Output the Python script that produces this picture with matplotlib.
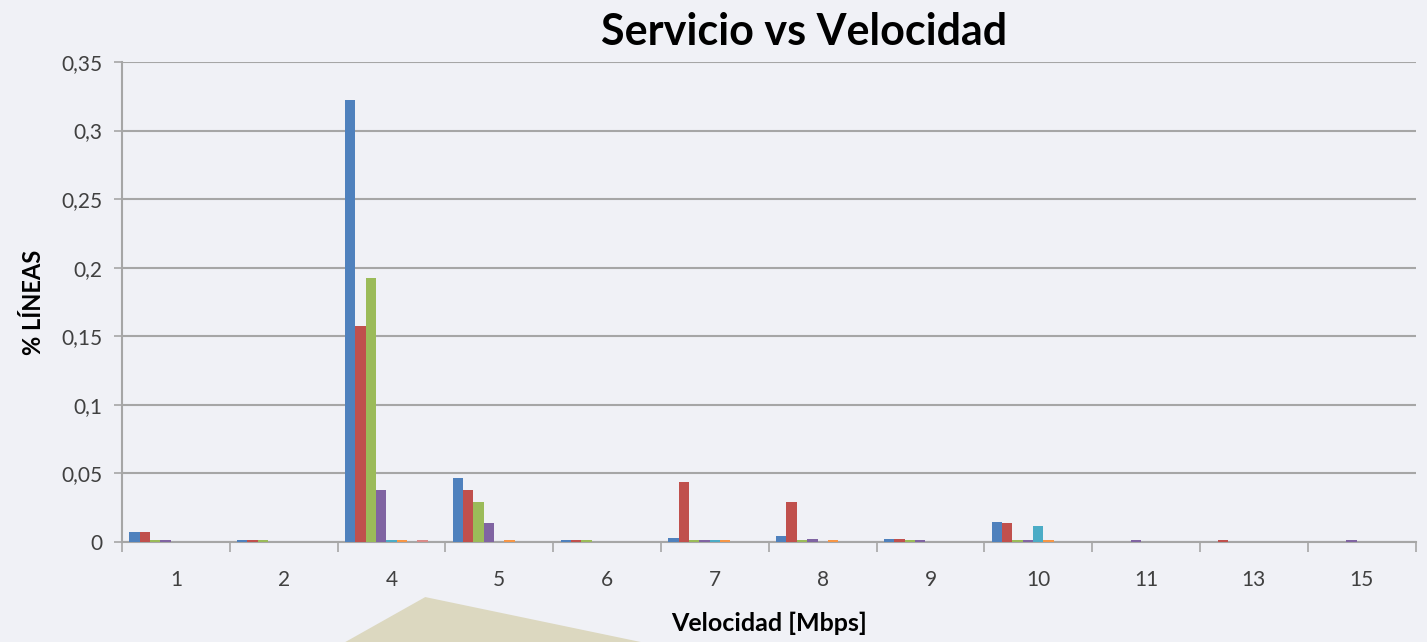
import matplotlib.pyplot as plt
import numpy as np
from matplotlib.patches import Polygon

plt.rcParams['font.family'] = ['Lato', 'DejaVu Sans']

# Datos
velocidades = ["1", "2", "4", "5", "6", "7", "8", "9", "10", "11", "13", "15"]
serie1 = [0.0075, 0.0015, 0.322, 0.047, 0.0015, 0.003, 0.0046, 0.0025, 0.0148, 0, 0, 0]
serie2 = [0.0075, 0.0015, 0.1575, 0.038, 0.0015, 0.044, 0.0294, 0.0025, 0.0136, 0, 0.0015, 0]
serie3 = [0.0015, 0.0015, 0.1925, 0.029, 0.0015, 0.0015, 0.0015, 0.0015, 0.0015, 0, 0, 0]
serie4 = [0.0015, 0, 0.038, 0.0136, 0, 0.0015, 0.0025, 0.0015, 0.0015, 0.0015, 0, 0.0015]
serie5 = [0, 0, 0.0012, 0, 0, 0.0015, 0, 0, 0.0117, 0, 0, 0]
serie6 = [0, 0, 0.0012, 0.0012, 0, 0.0015, 0.0015, 0, 0.0015, 0, 0, 0]
serie7 = [0, 0, 0, 0, 0, 0, 0, 0, 0, 0, 0, 0]
serie8 = [0, 0, 0.0012, 0, 0, 0, 0, 0, 0, 0, 0, 0]
serie9 = [0, 0, 0, 0, 0, 0, 0, 0, 0, 0, 0, 0]

series = [serie1, serie2, serie3, serie4, serie5, serie6, serie7, serie8, serie9]
colores = ["#4F81BD", "#C0504D", "#9BBB59", "#8064A2", "#4BACC6",
           "#F79646", "#2C4D75", "#D98A88", "#5F7530"]

fondo = "#F0F1F6"
fig = plt.figure(figsize=(14.27, 6.42), dpi=100, facecolor=fondo)

# decoracion de la diapositiva
fig.patches.append(Polygon([(0.242, 0), (0.298, 0.070), (0.449, 0)], closed=True,
                           transform=fig.transFigure, facecolor="#DCD8C0",
                           edgecolor="none", zorder=0))

ax = fig.add_axes([0.0855, 0.1558, 0.9065, 0.7476])
ax.set_facecolor("none")

x = np.arange(len(velocidades))
ancho = 0.096
n = len(series)
for i, (valores, color) in enumerate(zip(series, colores)):
    ax.bar(x + (i - (n - 1) / 2) * ancho, valores, width=ancho, color=color,
           edgecolor="none", zorder=3)

ax.set_xlim(-0.5, len(velocidades) - 0.5)
ax.set_ylim(0, 0.35)

yt = [0, 0.05, 0.1, 0.15, 0.2, 0.25, 0.3, 0.35]
ax.set_yticks(yt)
ax.set_yticklabels(["0", "0,05", "0,1", "0,15", "0,2", "0,25", "0,3", "0,35"],
                   fontsize=15, color="#404040")
ax.yaxis.grid(True, color="#A6A6A6", linewidth=1.5, zorder=0)
ax.tick_params(axis="y", length=6, color="#A6A6A6", width=1.2, pad=8)

# ticks mayores en los limites de categoria, etiquetas en el centro
ax.set_xticks(np.arange(-0.5, len(velocidades), 1.0))
ax.set_xticklabels([])
ax.set_xticks(x, minor=True)
ax.set_xticklabels(velocidades, minor=True, fontsize=15, color="#404040")
ax.tick_params(axis="x", which="major", length=7, color="#A6A6A6", width=1.2)
ax.tick_params(axis="x", which="minor", length=0, pad=20)

for s in ["top", "right"]:
    ax.spines[s].set_visible(False)
for s in ["left", "bottom"]:
    ax.spines[s].set_color("#A6A6A6")
    ax.spines[s].set_linewidth(1.5)

ax.set_title("Servicio vs Velocidad", fontsize=31, fontweight="bold", pad=12, x=0.527)
ax.set_xlabel("Velocidad [Mbps]", fontsize=18, fontweight="bold", labelpad=16)
ax.set_ylabel("% LÍNEAS", fontsize=17, fontweight="bold", labelpad=12)

fig.savefig("out.png", dpi=100, facecolor=fondo)
